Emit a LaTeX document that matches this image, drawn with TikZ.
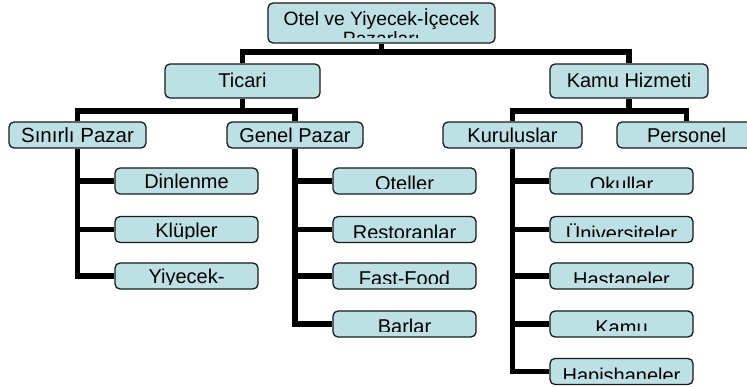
\documentclass[tikz,border=0pt]{standalone}
\usepackage{fontspec}
\setmainfont{Liberation Sans}
\definecolor{boxfill}{RGB}{188,224,228}
\newcommand\boxtext[5]{%
  \begin{scope}
    \clip ([yshift=1pt]#1.north west) rectangle ([yshift=-#3pt]#1.north east);
    \node[txt, anchor=base, font=\fontsize{#5}{#5}\selectfont] at ([yshift=-#2pt]#1.north) {#4};
  \end{scope}}
\begin{document}
\begin{tikzpicture}[x=1pt,y=-1pt,
  box/.style={draw=black!90, line width=1.3pt, fill=boxfill, rounded corners=5pt,
    inner sep=0pt, minimum height=26pt, minimum width=143pt},
  conn/.style={line width=5.5pt, black},
  txt/.style={inner sep=0pt}]
\useasboundingbox (0,0) rectangle (747,387);
\clip (0,0) rectangle (747,387);

% boxes
\node[box, minimum width=227pt, minimum height=40pt] (root) at (381.5,23) {};
\node[box, minimum width=155pt, minimum height=34pt] (ticari) at (242.5,81) {};
\node[box, minimum width=158pt, minimum height=34pt] (kamu) at (629,81) {};
\node[box, minimum width=137pt] (sinirli) at (77.5,135) {};
\node[box, minimum width=136pt] (genel) at (295,135) {};
\node[box, minimum width=139pt] (kurulus) at (512.5,135) {};
\node[box, minimum width=139pt] (personel) at (686.5,135) {};

\node[box] (dinlenme) at (186.5,181) {};
\node[box] (klupler) at (186.5,229.5) {};
\node[box] (yiyecek) at (186.5,276) {};

\node[box] (oteller) at (404.5,181) {};
\node[box] (restoran) at (404.5,229.5) {};
\node[box] (fastfood) at (404.5,276) {};
\node[box] (barlar) at (404.5,324) {};

\node[box] (okullar) at (621.5,181) {};
\node[box] (univ) at (621.5,229.5) {};
\node[box] (hastane) at (621.5,276) {};
\node[box] (kamukur) at (621.5,324) {};
\node[box] (hapis) at (621.5,371.5) {};

% connectors
\draw[conn] (root.south) -- (root.south |- 0,52);
\draw[conn] (ticari.north) -- (ticari.north |- 0,52) -| (kamu.north);
\draw[conn] (ticari.south) -- (ticari.south |- 0,111);
\draw[conn] (sinirli.north) -- (sinirli.north |- 0,111) -| (genel.north);
\draw[conn] (kamu.south) -- (kamu.south |- 0,111);
\draw[conn] (kurulus.north) -- (kurulus.north |- 0,111) -| (personel.north);

\foreach \leaf in {dinlenme,klupler,yiyecek}
  \draw[conn] (sinirli.south) |- (\leaf.west);
\foreach \leaf in {oteller,restoran,fastfood,barlar}
  \draw[conn] (genel.south) |- (\leaf.west);
\foreach \leaf in {okullar,univ,hastane,kamukur,hapis}
  \draw[conn] (kurulus.south) |- (\leaf.west);

% texts
\boxtext{root}{23}{35}{Otel ve Yiyecek-İçecek}{19.3}
\boxtext{root}{43}{35}{Pazarları}{19.3}
\boxtext{ticari}{24.5}{31}{Ticari}{20}
\boxtext{kamu}{24.5}{31}{Kamu Hizmeti}{20}
\boxtext{sinirli}{21.5}{24}{Sınırlı Pazar}{20.5}
\boxtext{genel}{21.5}{24}{Genel Pazar}{20}
\boxtext{kurulus}{21.5}{24}{Kuruluslar}{20}
\boxtext{personel}{21.5}{24}{Personel}{20}

\boxtext{dinlenme}{21.5}{22.5}{Dinlenme}{20}
\boxtext{klupler}{21.5}{22.5}{Klüpler}{20}
\boxtext{yiyecek}{21.5}{22.5}{Yiyecek-}{20}

\boxtext{oteller}{23.5}{21.5}{Oteller}{20}
\boxtext{restoran}{23.5}{21.5}{Restoranlar}{20}
\boxtext{fastfood}{23.5}{21.5}{Fast-Food}{20}
\boxtext{barlar}{23.5}{21.5}{Barlar}{20}

\boxtext{okullar}{24.5}{20.5}{Okullar}{20}
\boxtext{univ}{24.5}{20.5}{Üniversiteler}{20}
\boxtext{hastane}{24.5}{20.5}{Hastaneler}{20}
\boxtext{kamukur}{24.5}{20.5}{Kamu}{20}
\boxtext{hapis}{24.5}{20.5}{Hapishaneler}{20}
\end{tikzpicture}
\end{document}
